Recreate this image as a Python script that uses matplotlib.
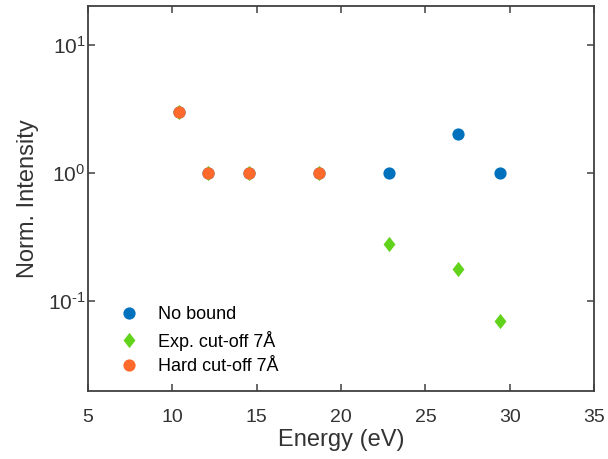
import matplotlib.pyplot as plt
import numpy as np

plt.rcParams['font.family'] = ['Liberation Sans', 'DejaVu Sans']
plt.rcParams['mathtext.fontset'] = 'custom'
plt.rcParams['mathtext.rm'] = 'Liberation Sans'
plt.rcParams['mathtext.it'] = 'Liberation Sans:italic'
plt.rcParams['axes.unicode_minus'] = False

# peak energies (eV) and normalised intensities
energy_all = [10.4, 12.1, 14.55, 18.7, 22.85, 26.95, 29.45]
no_bound = [3.0, 1.0, 1.0, 1.0, 1.0, 2.0, 1.0]
exp_cutoff = [3.0, 1.0, 1.0, 1.0, 0.28, 0.18, 0.07]
energy_hard = [10.4, 12.1, 14.55, 18.7]
hard_cutoff = [3.0, 1.0, 1.0, 1.0]

c_blue = '#0072BD'
c_green = '#62D31B'
c_orange = '#FF6A2C'
c_axis = '#333333'

# diamond a bit wider than matplotlib's thin 'd'
diamond = [(0, 1), (0.78, 0), (0, -1), (-0.78, 0), (0, 1)]

fig = plt.figure(figsize=(6.08, 4.59), dpi=100)
ax = fig.add_axes([0.145, 0.148, 0.832, 0.839])

ax.plot(energy_all, no_bound, 'o', color=c_blue, ms=8.8, mec='none', label='No bound')
ax.plot(energy_all, exp_cutoff, marker=diamond, ls='none', color=c_green, ms=11,
        mec='none', label='Exp. cut-off 7Å')
ax.plot(energy_hard, hard_cutoff, 'o', color=c_orange, ms=8.8, mec='none', label='Hard cut-off 7Å')

ax.set_yscale('log')
ax.set_xlim(5, 35)
ax.set_ylim(0.02, 20)
ax.set_xticks(np.arange(5, 36, 5))
ax.set_yticks([0.1, 1, 10])
ax.set_yticklabels([r'$\mathregular{10^{\text{-}1}}$', r'$\mathregular{10^{0}}$', r'$\mathregular{10^{1}}$'])
ax.yaxis.set_minor_locator(plt.NullLocator())

for s in ax.spines.values():
    s.set_color('#404040')
    s.set_linewidth(1.3)
ax.tick_params(direction='in', top=True, right=True, length=5, width=1.1,
               colors='#404040', labelcolor=c_axis, labelsize=14)
ax.tick_params(axis='x', pad=13)
ax.tick_params(axis='y', pad=2, labelsize=15)

ax.set_xlabel('Energy (eV)', fontsize=17, color=c_axis, labelpad=2)
ax.set_ylabel('Norm. Intensity', fontsize=17, color=c_axis, labelpad=6)

ax.legend(loc='lower left', frameon=False, fontsize=13, handletextpad=0.6,
          bbox_to_anchor=(0.03, 0.022), borderaxespad=0, labelspacing=0.42)

fig.savefig('out.png', dpi=100)
